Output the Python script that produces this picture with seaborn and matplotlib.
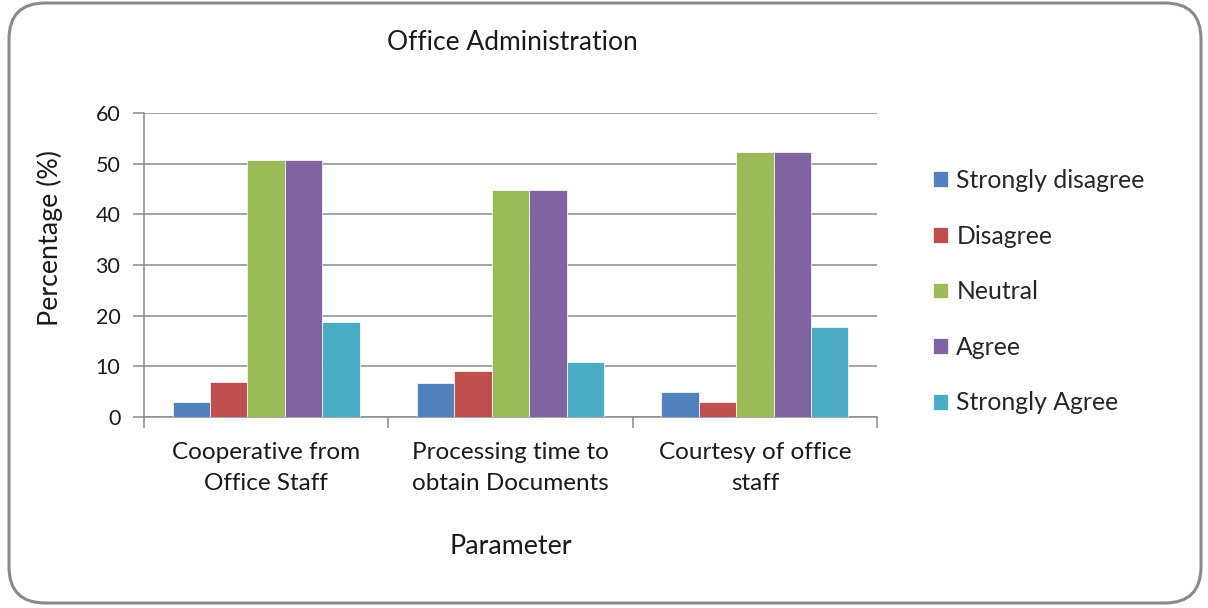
import matplotlib
matplotlib.use("Agg")
import matplotlib.pyplot as plt
import seaborn as sns
import pandas as pd
from matplotlib.patches import FancyBboxPatch

categories = ["Cooperative from\nOffice Staff",
              "Processing time to\nobtain Documents",
              "Courtesy of office\nstaff"]
responses = ["Strongly disagree", "Disagree", "Neutral", "Agree", "Strongly Agree"]
strongly_disagree = [2.9, 6.7, 4.9]
disagree = [7.0, 9.0, 2.9]
neutral = [50.8, 44.8, 52.4]
agree = [50.8, 44.8, 52.4]
strongly_agree = [18.8, 10.8, 17.8]
colors = ["#4F81BD", "#C0504D", "#9BBB59", "#8064A2", "#4BACC6"]
yticks = [0, 10, 20, 30, 40, 50, 60]

series = [strongly_disagree, disagree, neutral, agree, strongly_agree]
rows = []
for resp, vals in zip(responses, series):
    for cat, v in zip(categories, vals):
        rows.append({"Parameter": cat, "Response": resp, "Percentage": v})
df = pd.DataFrame(rows)

sns.set_style("white")
plt.rcParams['font.family'] = ['Lato', 'DejaVu Sans']

W, H = 1208, 608
fig = plt.figure(figsize=(W/100, H/100), dpi=100)
ax = fig.add_axes([144/W, 1-417/H, 733/W, 304/H])

sns.barplot(data=df, x="Parameter", y="Percentage", hue="Response",
            hue_order=responses, order=categories, palette=colors,
            width=0.765, saturation=1, edgecolor="white", linewidth=0.5,
            ax=ax, legend=True, zorder=3)

txt = "#1a1a1a"
ax.set_ylim(0, 60)
ax.set_xlim(-0.5, 2.5)
ax.set_yticks(yticks)
ax.set_yticklabels([str(t) for t in yticks], fontsize=15.5, color=txt)
ax.yaxis.grid(True, color="#8c8c8c", linewidth=1.1, zorder=0)
ax.set_axisbelow(True)
for s in ["top", "right"]:
    ax.spines[s].set_visible(False)
for s in ["left", "bottom"]:
    ax.spines[s].set_color("#8c8c8c")
    ax.spines[s].set_linewidth(1.1)
ax.tick_params(axis="y", direction="out", length=8, width=1.1, color="#8c8c8c", pad=9, left=True)
ax.set_xticks([0, 1, 2])
ax.set_xticklabels(categories, fontsize=17.5, color=txt, linespacing=1.6)
ax.set_xticks([-0.5, 0.5, 1.5, 2.5], minor=True)
ax.tick_params(axis="x", which="major", length=0, pad=18)
ax.tick_params(axis="x", which="minor", direction="out", length=8, width=1.1, color="#8c8c8c", bottom=True)
ax.set_xlabel("Parameter", fontsize=19.3, color=txt, labelpad=29)
ax.set_ylabel("Percentage (%)", fontsize=19.3, color=txt)
ax.yaxis.label.set_va("center")
ax.yaxis.set_label_coords((50-144)/733, (417-238)/304)

handles, labels = ax.get_legend_handles_labels()
ax.get_legend().remove()
fig.legend(handles, labels, loc="upper left", bbox_to_anchor=(923/W, 1-159/H),
           frameon=False, fontsize=17.8, handlelength=0.6, handleheight=0.6,
           handletextpad=0.35, labelspacing=1.32, borderaxespad=0)

fig.text(512/W, 1-42/H, "Office Administration", ha="center", va="center",
         fontsize=19, color=txt)

border = FancyBboxPatch((9/W, 5/H), 1192/W, 600/H,
                        boxstyle="round,pad=0,rounding_size=0.03",
                        transform=fig.transFigure, fill=False,
                        edgecolor="#8a8a8a", linewidth=2.2, mutation_aspect=W/H)
fig.patches.append(border)

fig.savefig("out.png", dpi=100)
